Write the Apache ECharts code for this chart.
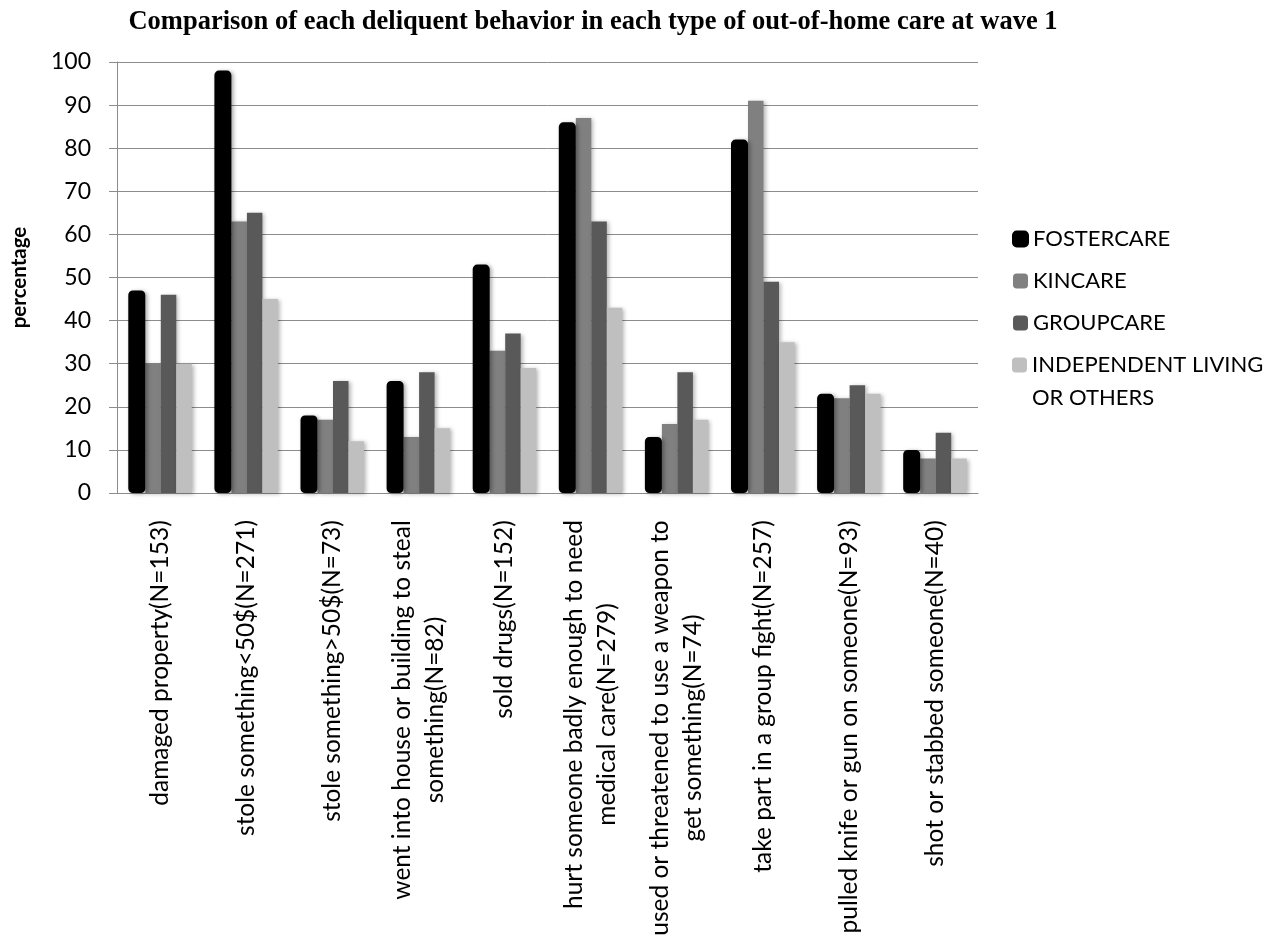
<!DOCTYPE html>
<html>
<head>
<meta charset="utf-8">
<script src="https://cdn.jsdelivr.net/npm/echarts@6/dist/echarts.min.js"></script>
<style>
  html, body { margin: 0; padding: 0; background: #fff; }
  #chart { width: 1281px; height: 940px; }
</style>
</head>
<body>
<div id="chart"></div>
<script>
// Delinquent behaviours (x axis categories, lines of each label)
const categories = [
  ['damaged property(N=153)'],
  ['stole something<50$(N=271)'],
  ['stole something>50$(N=73)'],
  ['went into house or building to steal', 'something(N=82)'],
  ['sold drugs(N=152)'],
  ['hurt someone badly enough to need', 'medical care(N=279)'],
  ['used or threatened to use a weapon to', 'get something(N=74)'],
  ['take part in a group fight(N=257)'],
  ['pulled knife or gun on someone(N=93)'],
  ['shot or stabbed someone(N=40)']
];

// Percentage per type of out-of-home care
const fostercare  = [47, 98, 18, 26, 53, 86, 13, 82, 23, 10];
const kincare     = [30, 63, 17, 13, 33, 87, 16, 91, 22, 8];
const groupcare   = [46, 65, 26, 28, 37, 63, 28, 49, 25, 14];
const independent = [30, 45, 12, 15, 29, 43, 17, 35, 23, 8];

const seriesNames = ['FOSTERCARE', 'KINCARE', 'GROUPCARE', 'INDEPENDENT LIVING\nOR OTHERS'];
const yTicks = [0, 10, 20, 30, 40, 50, 60, 70, 80, 90, 100];

const labelFont = 'Lato';
const catSize = 24.5;
const tickSize = 23;
const legendSize = 22;

// Width of the longest line of each category label, so wrapped lines centre on each other
const ctx = document.createElement('canvas').getContext('2d');
ctx.font = catSize + 'px ' + labelFont;
const rich = {};
categories.forEach((lines, i) => {
  const w = Math.max(...lines.map(l => ctx.measureText(l).width));
  rich['c' + i] = { width: Math.ceil(w) + 2, align: 'center', fontFamily: labelFont, fontSize: catSize, color: '#000', lineHeight: 33 };
});

const gridColor = '#8c8c8c';
const shadow = { shadowColor: 'rgba(0,0,0,0.28)', shadowBlur: 4, shadowOffsetX: 2, shadowOffsetY: 1 };
const legendText = { fontFamily: labelFont, fontSize: legendSize, color: '#000', lineHeight: 33 };

const chart = echarts.init(document.getElementById('chart'), null, { renderer: 'canvas' });
chart.setOption({
  animation: false,
  backgroundColor: '#fff',
  title: {
    text: 'Comparison of each deliquent behavior in each type of out-of-home care at wave 1',
    left: 593, top: 9, textAlign: 'center', padding: 0,
    textStyle: { fontFamily: 'Liberation Serif', fontWeight: 'bold', fontSize: 26.5, color: '#000' }
  },
  legend: [{
    data: seriesNames.slice(0, 3),
    orient: 'vertical', left: 1012, top: 222.5, padding: 0,
    itemWidth: 15, itemHeight: 15, itemGap: 9,
    textStyle: legendText
  }, {
    data: [seriesNames[3]],
    orient: 'vertical', left: 1012, top: 315.5, padding: 0,
    itemWidth: 15, itemHeight: 15,
    formatter: name => '\n' + name,
    textStyle: legendText
  }],
  grid: { left: 117, right: 303, top: 62, bottom: 447, containLabel: false },
  xAxis: {
    type: 'category',
    data: categories.map(l => l.join(' ')),
    axisLine: { lineStyle: { color: gridColor, width: 1 } },
    axisTick: { show: false },
    axisLabel: {
      interval: 0, rotate: 90, margin: 26,
      formatter: (v, i) => categories[i].map(l => '{c' + i + '|' + l + '}').join('\n'),
      rich: rich
    }
  },
  yAxis: {
    type: 'value', min: 0, max: 100, interval: 10,
    name: 'percentage', nameLocation: 'middle', nameRotate: 90, nameGap: 87,
    nameTextStyle: { fontFamily: labelFont, fontWeight: 'bold', fontSize: 20.5, color: '#000' },
    axisLine: { show: true, lineStyle: { color: gridColor, width: 1 } },
    axisTick: { show: true, inside: false, length: 8, lineStyle: { color: gridColor } },
    axisLabel: {
      margin: 26, fontFamily: labelFont, fontSize: tickSize, color: '#000',
      formatter: v => yTicks.includes(v) ? String(v) : ''
    },
    splitLine: { lineStyle: { color: gridColor, width: 1 } }
  },
  series: [
    { name: seriesNames[0], type: 'bar', data: fostercare, barWidth: 17, barGap: '0%', z: 3,
      itemStyle: Object.assign({ color: '#000', borderColor: '#000', borderWidth: 3, borderRadius: 3 }, shadow) },
    { name: seriesNames[1], type: 'bar', data: kincare, barWidth: 15.5, barGap: '0%', z: 2,
      itemStyle: Object.assign({ color: '#808080' }, shadow) },
    { name: seriesNames[2], type: 'bar', data: groupcare, barWidth: 15.5, barGap: '0%', z: 2,
      itemStyle: Object.assign({ color: '#595959' }, shadow) },
    { name: seriesNames[3], type: 'bar', data: independent, barWidth: 15.5, barGap: '0%', z: 2,
      itemStyle: Object.assign({ color: '#bfbfbf' }, shadow) }
  ]
});
</script>
</body>
</html>
